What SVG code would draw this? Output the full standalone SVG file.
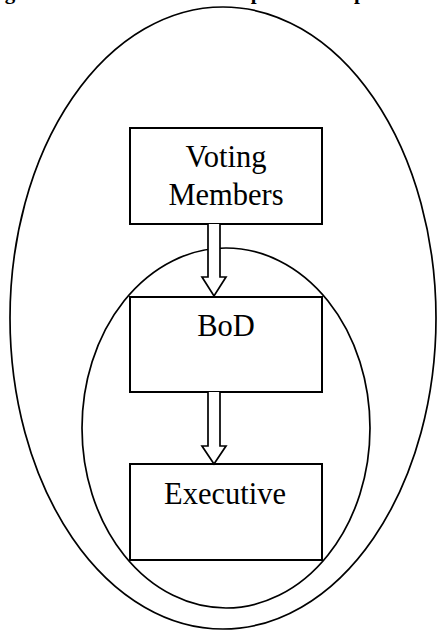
<svg xmlns="http://www.w3.org/2000/svg" width="438" height="630" viewBox="0 0 438 630">
<style>
.el{fill:none;stroke:#000;stroke-width:1.7}
.box{fill:#fff;stroke:#000;stroke-width:2}
.lbl{font-family:"Liberation Serif","Times New Roman",serif;font-size:30.5px;fill:#000;text-anchor:middle}
.ttl{font-family:"Liberation Serif","Times New Roman",serif;font-size:21px;font-weight:bold;fill:#000}
.arr{fill:#fff;stroke:#000;stroke-width:1.7;stroke-linejoin:miter}
</style>
<rect width="438" height="630" fill="#fff"/>
<text class="ttl" x="-14" y="-1.5">Figure 1: The Three-Tier Corporate Setup</text>
<g id="outer-ellipse"><ellipse class="el" cx="223" cy="318" rx="213" ry="311"/></g>
<g id="inner-ellipse"><ellipse class="el" cx="226" cy="428" rx="144" ry="180"/></g>
<g id="voting-members">
<rect class="box" x="130" y="128" width="192" height="96"/>
<text class="lbl" x="226" y="167">Voting</text>
<text class="lbl" x="226" y="205">Members</text>
</g>
<g id="bod">
<rect class="box" x="130" y="297" width="192" height="95"/>
<text class="lbl" x="226" y="336">BoD</text>
</g>
<g id="executive">
<rect class="box" x="130" y="464" width="192" height="96"/>
<text class="lbl" x="225" y="504">Executive</text>
</g>
<g id="connectors">
<path class="arr" d="M208,224 L208,277 L202,277 L214,296 L226,277 L220,277 L220,224"/>
<path class="arr" d="M208,392 L208,446 L202,446 L214,464 L226,446 L220,446 L220,392"/>
</g>
</svg>
